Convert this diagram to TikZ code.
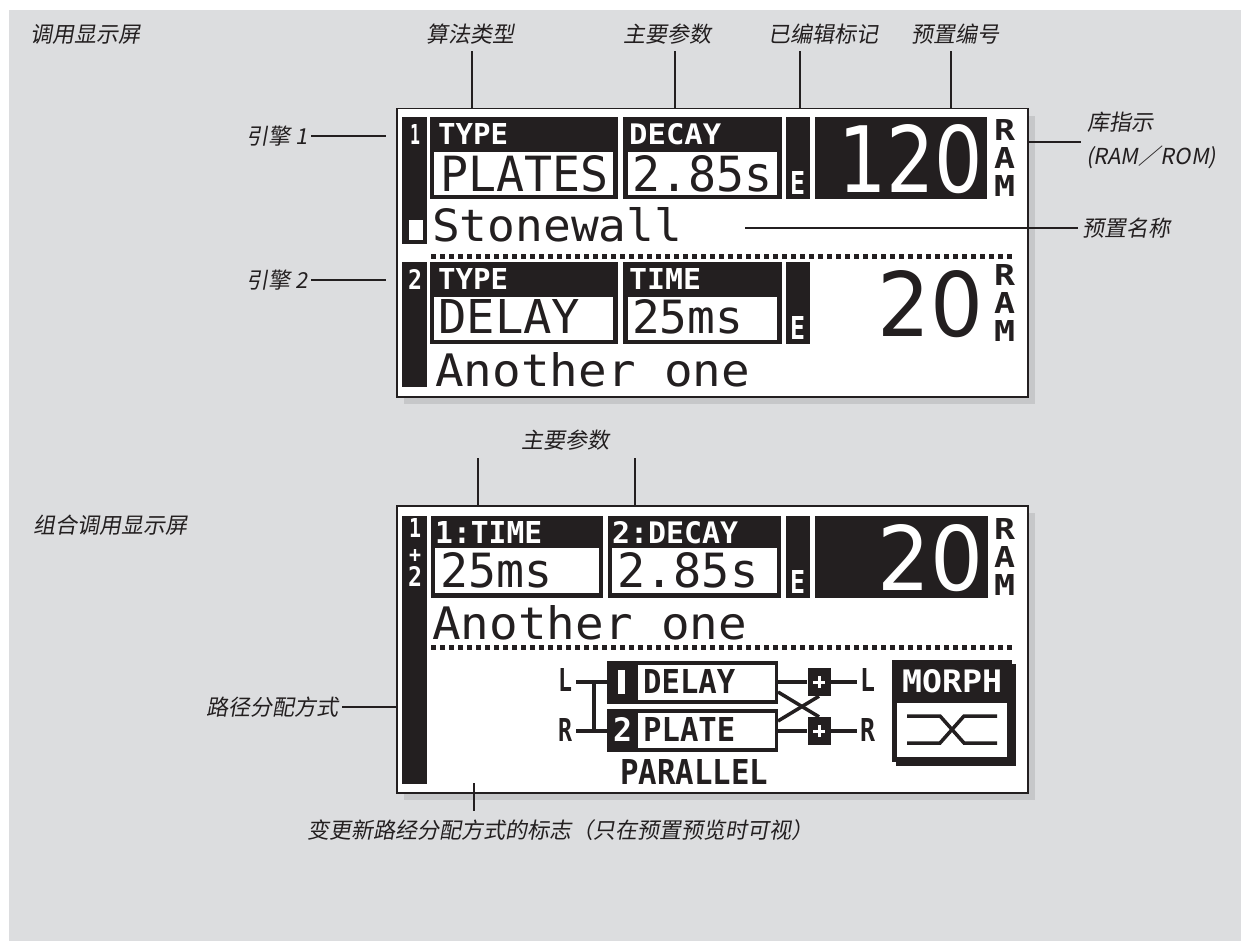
\documentclass[tikz,border=0pt]{standalone}
\usepackage{fontspec}
\usepackage{graphicx}
\newfontfamily\cjk[FakeSlant=0.18]{Noto Sans CJK SC}
\newfontfamily\lcd{DejaVu Sans Mono}
\newfontfamily\lcdn{DejaVu Sans}
\definecolor{bgc}{HTML}{DCDDDF}
\definecolor{shc}{HTML}{C6C7C9}
\definecolor{lk}{HTML}{231F20}
\definecolor{txc}{HTML}{231F20}
\newcommand\lcdfit[3]{\resizebox{#1pt}{#2pt}{#3}}
\begin{document}
\begin{tikzpicture}[x=1pt,y=-1pt,
  lbl/.style={font=\cjk\fontsize{22}{24}\selectfont, text=txc, inner sep=0pt},
  ptr/.style={draw=txc, line width=1.1pt},
  lcdt/.style={anchor=south west, inner sep=0pt, text=lk},
  lcdw/.style={anchor=south west, inner sep=0pt, text=white},
  blk/.style={fill=lk},
  disp/.style={draw=lk, line width=1.5pt, fill=white, anchor=north west, minimum width=631pt, minimum height=288pt, inner sep=0pt},
  dots/.style={draw=lk, line width=5pt, dash pattern=on 5pt off 4pt},
  wire/.style={draw=lk, line width=3.5pt},
  ]
\fill[white] (0,0) rectangle (1241,941);
\useasboundingbox (0,0) rectangle (1241,941);
\fill[bgc] (9,10) rectangle (1241,941);

% ---------------- top labels
\node[lbl, anchor=west] (ltitle1) at (30,34) {调用显示屏};
\node[lbl] (lalg) at (470,34) {算法类型};
\node[lbl] (lpar1) at (667,34) {主要参数};
\node[lbl] (ledit) at (823,34) {已编辑标记};
\node[lbl] (lnum) at (955,34) {预置编号};

% ---------------- display 1
\fill[shc] (404,116) rectangle (1035,404);
\node[disp] (d1) at (396,108) {};

\coordinate (a1) at (472,108);
\coordinate (a2) at (675,108);
\coordinate (a3) at (800,108);
\coordinate (a4) at (951,108);
\draw[ptr] (a1 |- lalg.south) ++(0,7) -- (a1);
\draw[ptr] (a2 |- lpar1.south) ++(0,7) -- (a2);
\draw[ptr] (a3 |- ledit.south) ++(0,7) -- (a3);
\draw[ptr] (a4 |- lnum.south) ++(0,7) -- (a4);

% engine 1
\fill[blk] (402,117) rectangle (427,244);
\node[lcdw] (n1) at (410,145) {\lcdfit{10}{20}{\lcd\bfseries 1}};
\fill[white] (409,220) rectangle (423,240);
\fill[blk] (430,117) rectangle (618,199);
\fill[white] (434,152) rectangle (613,195);
\node[lcdw] (ttype1) at (438,145) {\lcdfit{70}{21}{\lcd\bfseries TYPE}};
\node[lcdt] (vplates) at (440,192) {\lcdfit{168}{36}{\lcd PLATES}};
\fill[blk] (623,117) rectangle (782,199);
\fill[white] (628,152) rectangle (777,195);
\node[lcdw] (tdecay1) at (629,145) {\lcdfit{92}{21}{\lcd\bfseries DECAY}};
\node[lcdt] (vdecay1) at (632,192) {\lcdfit{140}{36}{\lcd 2.85s}};
\fill[blk] (786,117) rectangle (810,199);
\node[lcdw] (e1) at (790,195) {\lcdfit{15}{23}{\lcd\bfseries E}};
\fill[blk] (815,117) rectangle (987,199);
\node[lcdw] (num1) at (838,194) {\lcdfit{145}{68}{\lcdn 120}};
\node[lcdt] (r1) at (994,141) {\lcdfit{21}{21}{\lcd\bfseries R}};
\node[lcdt] (ra1) at (994,169) {\lcdfit{21}{21}{\lcd\bfseries A}};
\node[lcdt] (rm1) at (994,197) {\lcdfit{21}{21}{\lcd\bfseries M}};
\node[lcdt] (name1) at (432,242) {\lcdfit{250}{34}{\lcd Stonewall}};
\draw[dots] (431,256) -- (1015,256);

% engine 2
\fill[blk] (402,262) rectangle (427,387);
\node[lcdw] (n2) at (408,290) {\lcdfit{14}{20}{\lcd\bfseries 2}};
\fill[blk] (430,262) rectangle (618,344);
\fill[white] (434,297) rectangle (613,340);
\node[lcdw] (ttype2) at (438,290) {\lcdfit{70}{21}{\lcd\bfseries TYPE}};
\node[lcdt] (vdelay) at (438,334) {\lcdfit{142}{34}{\lcd DELAY}};
\fill[blk] (623,262) rectangle (782,344);
\fill[white] (628,297) rectangle (777,340);
\node[lcdw] (ttime2) at (629,290) {\lcdfit{72}{21}{\lcd\bfseries TIME}};
\node[lcdt] (vtime2) at (632,334) {\lcdfit{111}{34}{\lcd 25ms}};
\fill[blk] (786,262) rectangle (810,344);
\node[lcdw] (e2) at (790,340) {\lcdfit{15}{23}{\lcd\bfseries E}};
\node[lcdt] (num2) at (877,338) {\lcdfit{106}{66}{\lcdn 20}};
\node[lcdt] (r2) at (994,286) {\lcdfit{21}{21}{\lcd\bfseries R}};
\node[lcdt] (ra2) at (994,314) {\lcdfit{21}{21}{\lcd\bfseries A}};
\node[lcdt] (rm2) at (994,342) {\lcdfit{21}{21}{\lcd\bfseries M}};
\node[lcdt] (name2) at (435,387) {\lcdfit{315}{34}{\lcd Another one}};

% side labels display 1
\node[lbl, anchor=east] (leng1) at (308,136) {引擎 1};
\node[lbl, anchor=east] (leng2) at (308,280) {引擎 2};
\coordinate (pe1) at (386,136);
\coordinate (pe2) at (386,280);
\draw[ptr] ([xshift=3pt]leng1.east) -- (pe1);
\draw[ptr] ([xshift=3pt]leng2.east) -- (pe2);
\node[lbl, anchor=west] (lbank) at (1087,122) {库指示};
\node[lbl, anchor=west] (lram) at (1086,157) {(RAM／ROM)};
\coordinate (pb) at (1027,142);
\draw[ptr] (pb) -- ([xshift=-6pt]lbank.west |- pb);
\node[lbl, anchor=west] (lname) at (1082,228) {预置名称};
\coordinate (pn) at (745,228);
\draw[ptr] (pn) -- ([xshift=-4pt]lname.west);

% ---------------- display 2 labels
\node[lbl] (lpar2) at (565,440) {主要参数};
\node[lbl, anchor=west] (ltitle2) at (33,525) {组合调用显示屏};
\coordinate (b1) at (478,505);
\coordinate (b2) at (635,505);

% ---------------- display 2
\fill[shc] (404,513) rectangle (1035,800);
\node[disp, minimum height=287pt] (d2) at (396,505) {};
\draw[ptr] (b1 |- lpar2.south) ++(0,8) -- (b1);
\draw[ptr] (b2 |- lpar2.south) ++(0,8) -- (b2);

\fill[blk] (402,516) rectangle (427,784);
\node[lcdw] (m1) at (409,538) {\lcdfit{12}{19}{\lcd\bfseries 1}};
\node[lcdw] (mplus) at (409,563) {\lcdfit{12}{13}{\lcd\bfseries +}};
\node[lcdw] (m2) at (408,587) {\lcdfit{14}{20}{\lcd\bfseries 2}};
\fill[blk] (431,516) rectangle (603,598);
\fill[white] (435,548) rectangle (599,593);
\node[lcdw] (t1time) at (435,544) {\lcdfit{107}{22}{\lcd\bfseries 1:TIME}};
\node[lcdt] (v1time) at (440,588) {\lcdfit{112}{35}{\lcd 25ms}};
\fill[blk] (608,516) rectangle (781,598);
\fill[white] (612,548) rectangle (777,593);
\node[lcdw] (t2decay) at (612,544) {\lcdfit{126}{22}{\lcd\bfseries 2:DECAY}};
\node[lcdt] (v2decay) at (617,588) {\lcdfit{141}{35}{\lcd 2.85s}};
\fill[blk] (786,516) rectangle (810,598);
\node[lcdw] (e3) at (790,594) {\lcdfit{15}{23}{\lcd\bfseries E}};
\fill[blk] (815,516) rectangle (988,598);
\node[lcdw] (num3) at (877,592) {\lcdfit{106}{66}{\lcdn 20}};
\node[lcdt] (r3) at (994,540) {\lcdfit{21}{21}{\lcd\bfseries R}};
\node[lcdt] (ra3) at (994,568) {\lcdfit{21}{21}{\lcd\bfseries A}};
\node[lcdt] (rm3) at (994,596) {\lcdfit{21}{21}{\lcd\bfseries M}};
\node[lcdt] (name3) at (432,640) {\lcdfit{315}{34}{\lcd Another one}};
\draw[dots] (431,647) -- (1015,647);

% routing
\node[lcdt] (inL) at (558,692) {\lcdfit{14}{23}{\lcd\bfseries L}};
\node[lcdt] (inR) at (558,742) {\lcdfit{14}{23}{\lcd\bfseries R}};
\fill[blk] (607,661) rectangle (778,704);
\fill[white] (638,665) rectangle (775,700);
\fill[white] (618,670) rectangle (625,694);
\node[lcdt] (rdelay) at (643,694) {\lcdfit{92}{24}{\lcd\bfseries DELAY}};
\fill[blk] (607,709) rectangle (778,752);
\fill[white] (638,713) rectangle (775,748);
\node[lcdw] (r2n) at (613,742) {\lcdfit{19}{24}{\lcd\bfseries 2}};
\node[lcdt] (rplate) at (643,742) {\lcdfit{92}{24}{\lcd\bfseries PLATE}};
\coordinate (jL) at (594,682);
\coordinate (jR) at (594,731);
\draw[wire] ([xshift=4pt]inL.south east |- jL) -- (607,682);
\draw[wire] ([xshift=4pt]inR.south east |- jR) -- (607,731);
\draw[wire] (jL) -- (jR);
% summing boxes
\node[fill=lk, minimum width=23pt, minimum height=28pt, inner sep=0pt] (s1) at (819,682) {};
\node[fill=lk, minimum width=23pt, minimum height=28pt, inner sep=0pt] (s2) at (819,731) {};
\draw[white, line width=3pt] ([xshift=-6pt]s1.center) -- ([xshift=6pt]s1.center) ([yshift=-6pt]s1.center) -- ([yshift=6pt]s1.center);
\draw[white, line width=3pt] ([xshift=-6pt]s2.center) -- ([xshift=6pt]s2.center) ([yshift=-6pt]s2.center) -- ([yshift=6pt]s2.center);
\draw[wire] (778,682) -- (s1.west);
\draw[wire] (778,731) -- (s2.west);
\draw[wire] (778,692) -- (s2.north);
\draw[wire] (778,721) -- (s1.south);
\node[lcdt] (outL) at (860,692) {\lcdfit{15}{23}{\lcd\bfseries L}};
\node[lcdt] (outR) at (860,742) {\lcdfit{15}{23}{\lcd\bfseries R}};
\draw[wire] (s1.east) -- ([xshift=-3pt]outL.south west |- s1.east);
\draw[wire] (s2.east) -- ([xshift=-3pt]outR.south west |- s2.east);
\node[lcdt] (tpar) at (620,785) {\lcdfit{148}{25}{\lcd\bfseries PARALLEL}};
% morph
\fill[blk] (896,664) rectangle (1016,766);
\fill[blk] (892,660) rectangle (1012,762);
\fill[white] (897,703) rectangle (1007,757);
\node[lcdw] (tmorph) at (902,693) {\lcdfit{100}{23}{\lcd\bfseries MORPH}};
\draw[wire] (907,716) -- (940,716) -- (964,743) -- (997,743);
\draw[wire] (907,743) -- (940,743) -- (964,716) -- (997,716);

% display 2 side/bottom labels
\node[lbl, anchor=east] (lroute) at (339,707) {路径分配方式};
\draw[ptr] ([xshift=3pt]lroute.east) -- (d2.west |- lroute.east);
\node[lbl] (lflag) at (560,830) {变更新路经分配方式的标志（只在预置预览时可视）};
\coordinate (fl) at (474,783);
\draw[ptr] (fl) -- ([yshift=8pt]fl |- lflag.north);
\end{tikzpicture}
\end{document}
